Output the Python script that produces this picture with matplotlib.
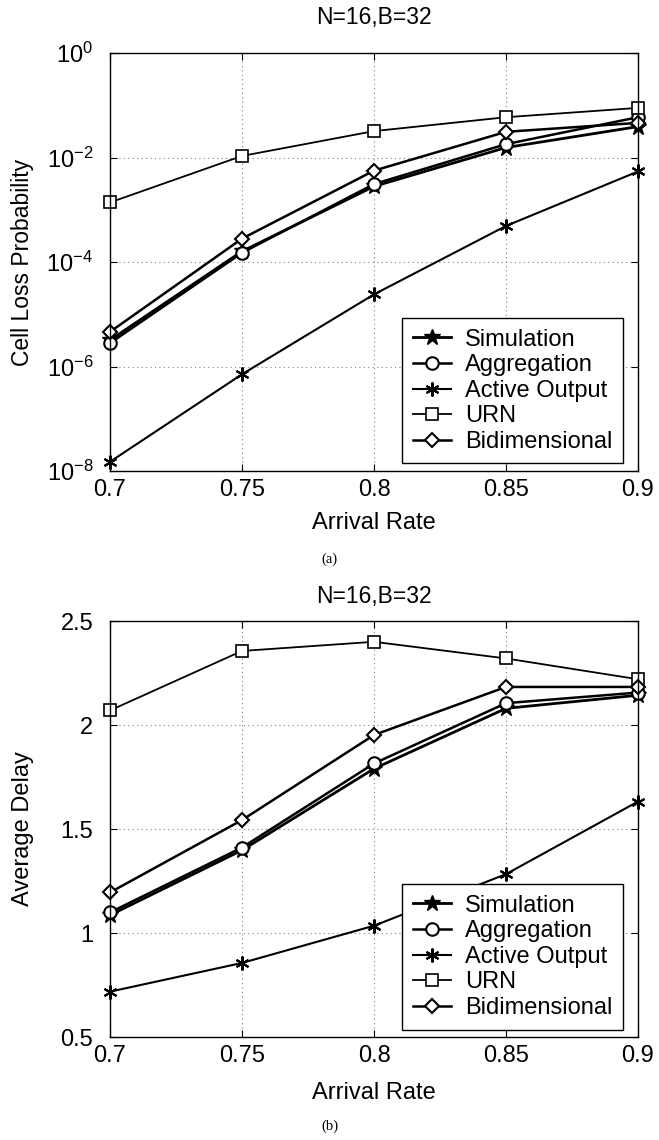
import matplotlib
matplotlib.use("Agg")
import matplotlib.pyplot as plt

plt.rcParams['font.family'] = ['Liberation Sans', 'DejaVu Sans']
plt.rcParams['mathtext.fontset'] = 'custom'
plt.rcParams['mathtext.rm'] = 'Liberation Sans'
plt.rcParams['mathtext.it'] = 'Liberation Sans'

arrival = [0.7, 0.75, 0.8, 0.85, 0.9]

# (a) Cell loss probability
clp_sim = [3.2e-6, 1.6e-4, 2.8e-3, 1.55e-2, 3.9e-2]
clp_agg = [2.8e-6, 1.5e-4, 3.1e-3, 1.8e-2, 5.9e-2]
clp_act = [1.5e-8, 7.1e-7, 2.4e-5, 4.9e-4, 5.4e-3]
clp_urn = [1.38e-3, 1.07e-2, 3.2e-2, 5.9e-2, 8.9e-2]
clp_bid = [4.6e-6, 2.8e-4, 5.6e-3, 3.1e-2, 4.6e-2]

# (b) Average delay
del_sim = [1.086, 1.398, 1.79, 2.08, 2.143]
del_agg = [1.099, 1.411, 1.815, 2.105, 2.156]
del_act = [0.718, 0.856, 1.035, 1.283, 1.632]
del_urn = [2.07, 2.356, 2.40, 2.32, 2.22]
del_bid = [1.195, 1.543, 1.952, 2.183, 2.183]

labels = ["Simulation", "Aggregation", "Active Output", "URN", "Bidimensional"]

styles = [
    dict(marker='*', markersize=12, markerfacecolor='black', lw=2.0),
    dict(marker='o', markersize=9, markerfacecolor='white', markeredgewidth=1.5, lw=1.8),
    dict(marker=(6, 2, 0), markersize=10, markeredgewidth=1.5, lw=1.5),
    dict(marker='s', markersize=8, markerfacecolor='white', markeredgewidth=1.2, lw=1.3),
    dict(marker='D', markersize=7.5, markerfacecolor='white', markeredgewidth=1.5, lw=1.8),
]

W, H = 659, 1140
fig = plt.figure(figsize=(W/100, H/100), dpi=100)
ax1 = fig.add_axes([110/W, 1-471/H, 528/W, 418/H])
ax2 = fig.add_axes([110/W, 1-1037/H, 528/W, 416/H])

def style_axes(ax, xlab_y, title_pad):
    ax.set_xlim(0.7, 0.9)
    ax.set_xticks(arrival)
    ax.set_xticklabels(["0.7", "0.75", "0.8", "0.85", "0.9"])
    ax.tick_params(direction='in', labelsize=17, length=5, top=True, right=True)
    ax.tick_params(axis='x', pad=6)
    ax.tick_params(axis='y', pad=12)
    ax.grid(True, linestyle=(0, (1, 3)), color='gray', linewidth=0.8)
    for s in ax.spines.values():
        s.set_linewidth(1.0)
    ax.set_xlabel("Arrival Rate", fontsize=17)
    ax.xaxis.set_label_coords(0.5, xlab_y)
    ax.yaxis.set_label_coords(-0.144, 0.5)
    ax.set_title("N=16,B=32", fontsize=16.5, pad=title_pad)

series1 = [clp_sim, clp_agg, clp_act, clp_urn, clp_bid]
for data, lab, st in zip(series1, labels, styles):
    ax1.plot(arrival, data, color='black', markeredgecolor='black', label=lab, clip_on=False, **st)
ax1.set_yscale('log')
ax1.set_ylim(1e-8, 1e0)
ax1.set_yticks([1e-8, 1e-6, 1e-4, 1e-2, 1e0])
ax1.set_ylabel("Cell Loss Probability", fontsize=16.5)
style_axes(ax1, -0.098, 21)
ax1.minorticks_off()

series2 = [del_sim, del_agg, del_act, del_urn, del_bid]
for data, lab, st in zip(series2, labels, styles):
    ax2.plot(arrival, data, color='black', markeredgecolor='black', label=lab, clip_on=False, **st)
ax2.set_ylim(0.5, 2.5)
ax2.set_yticks([0.5, 1, 1.5, 2, 2.5])
ax2.set_yticklabels(["0.5", "1", "1.5", "2", "2.5"])
ax2.set_ylabel("Average Delay", fontsize=17)
style_axes(ax2, -0.108, 13)

for ax in (ax1, ax2):
    leg = ax.legend(loc='lower right', bbox_to_anchor=(0.9716, 0.018), borderaxespad=0,
                    fontsize=17, fancybox=False, frameon=True,
                    edgecolor='black', framealpha=1,
                    handlelength=1.6, labelspacing=0.15, borderpad=0.45,
                    handletextpad=0.6)
    leg.get_frame().set_linewidth(1.0)
    leg.set_zorder(5)

fig.text(0.5, 1-559/H, "(a)", ha='center', va='center', fontsize=10.5, family='Liberation Serif')
fig.text(0.5, 1-1126/H, "(b)", ha='center', va='center', fontsize=10.5, family='Liberation Serif')

fig.savefig("out.png", dpi=100)
